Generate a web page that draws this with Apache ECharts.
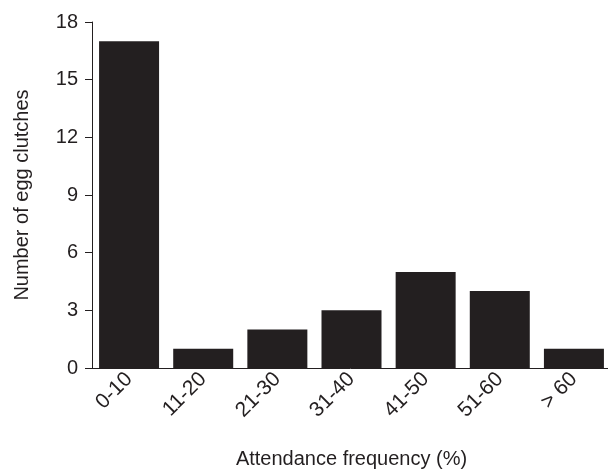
<!DOCTYPE html>
<html>
<head>
<meta charset="utf-8">
<script src="https://cdn.jsdelivr.net/npm/echarts@6/dist/echarts.min.js"></script>
<style>
  html, body { margin: 0; padding: 0; background: #fff; }
  #chart { width: 608px; height: 469px; }
</style>
</head>
<body>
<div id="chart"></div>
<script>
// Attendance frequency classes and the number of egg clutches in each
const categories = ['0-10', '11-20', '21-30', '31-40', '41-50', '51-60', '> 60'];
const clutchCounts = [17, 1, 2, 3, 5, 4, 1];
const yTicks = { min: 0, max: 18, interval: 3 };

const ink = '#231f20';
const font = '"Liberation Sans", Arial, Helvetica, sans-serif';

const chart = echarts.init(document.getElementById('chart'), null, { renderer: 'canvas' });
chart.setOption({
  animation: false,
  backgroundColor: '#ffffff',
  grid: {
    left: 92, top: 22, width: 519, bottom: 101,
    containLabel: false,
    outerBoundsMode: 'none'
  },
  xAxis: {
    type: 'category',
    data: categories,
    name: 'Attendance frequency (%)',
    nameLocation: 'middle',
    nameGap: 81,
    nameTextStyle: { color: ink, fontSize: 20, fontFamily: font },
    axisLine: { lineStyle: { color: ink, width: 1 } },
    axisTick: { alignWithLabel: true, length: 8, lineStyle: { color: ink } },
    axisLabel: { rotate: 45, color: ink, fontSize: 21, fontFamily: font, margin: 8 },
    splitLine: { show: false }
  },
  yAxis: {
    type: 'value',
    min: yTicks.min,
    max: yTicks.max,
    interval: yTicks.interval,
    name: 'Number of egg clutches',
    nameLocation: 'middle',
    nameGap: 60,
    nameTextStyle: { color: ink, fontSize: 20, fontFamily: font },
    axisLine: { show: true, lineStyle: { color: ink, width: 1 } },
    axisTick: { show: true, length: 7, lineStyle: { color: ink } },
    axisLabel: { color: ink, fontSize: 20, fontFamily: font, margin: 14 },
    splitLine: { show: false }
  },
  series: [{
    type: 'bar',
    data: clutchCounts,
    barWidth: 60,
    itemStyle: { color: ink }
  }]
});
</script>
</body>
</html>
